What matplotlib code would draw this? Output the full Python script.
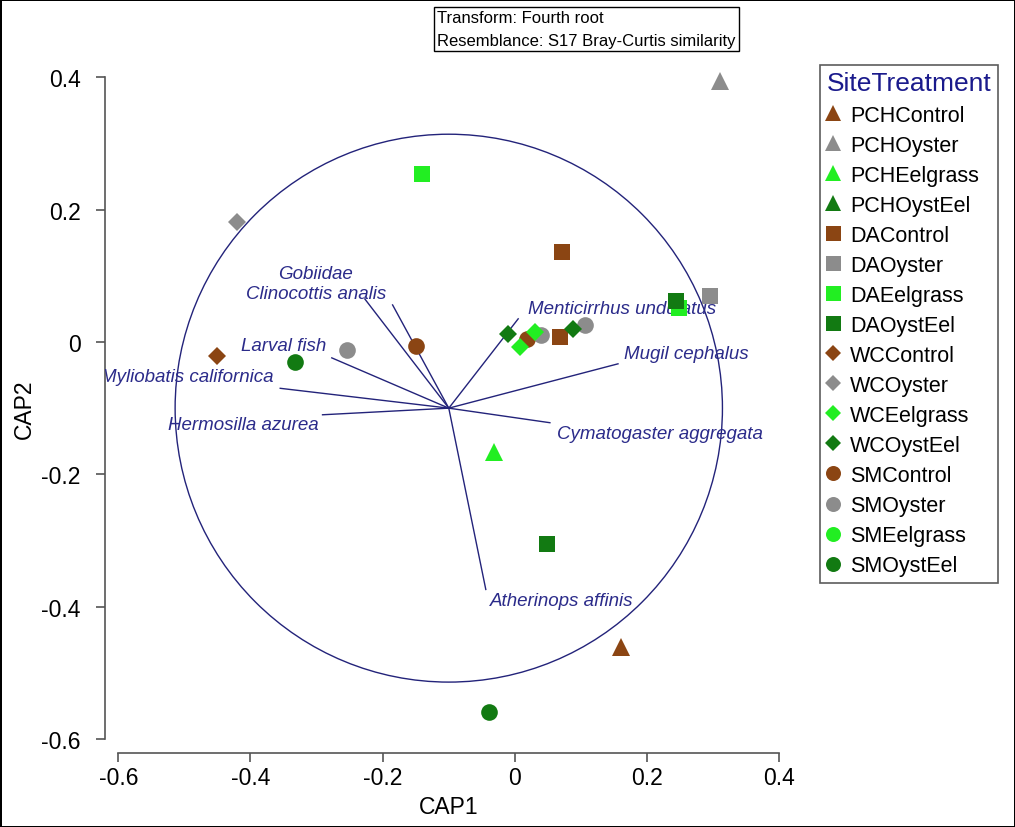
import numpy as np
import matplotlib
matplotlib.use("Agg")
import matplotlib.pyplot as plt
from matplotlib.lines import Line2D
from matplotlib.patches import Circle

plt.rcParams['font.family'] = ['Liberation Sans', 'DejaVu Sans']

# groups in legend order
groups = ['PCHControl', 'PCHOyster', 'PCHEelgrass', 'PCHOystEel',
          'DAControl', 'DAOyster', 'DAEelgrass', 'DAOystEel',
          'WCControl', 'WCOyster', 'WCEelgrass', 'WCOystEel',
          'SMControl', 'SMOyster', 'SMEelgrass', 'SMOystEel']

# CAP scores, per group
cap1 = {
    'PCHControl': [0.161], 'PCHOyster': [0.310], 'PCHEelgrass': [-0.031], 'PCHOystEel': [],
    'DAControl': [0.072, 0.068], 'DAOyster': [0.295], 'DAEelgrass': [-0.141, 0.249], 'DAOystEel': [0.244, 0.048],
    'WCControl': [-0.451], 'WCOyster': [-0.421], 'WCEelgrass': [0.008, 0.030], 'WCOystEel': [-0.010, 0.088],
    'SMControl': [-0.149, 0.018], 'SMOyster': [-0.254, 0.106, 0.040], 'SMEelgrass': [], 'SMOystEel': [-0.333, -0.039],
}
cap2 = {
    'PCHControl': [-0.461], 'PCHOyster': [0.395], 'PCHEelgrass': [-0.167], 'PCHOystEel': [],
    'DAControl': [0.136, 0.007], 'DAOyster': [0.070], 'DAEelgrass': [0.254, 0.051], 'DAOystEel': [0.062, -0.305],
    'WCControl': [-0.021], 'WCOyster': [0.182], 'WCEelgrass': [-0.008, 0.015], 'WCOystEel': [0.012, 0.020],
    'SMControl': [-0.006, 0.005], 'SMOyster': [-0.012, 0.025, 0.010], 'SMEelgrass': [], 'SMOystEel': [-0.030, -0.559],
}

# species vectors (end points) and label anchors
species = ['Gobiidae', 'Clinocottis analis', 'Larval fish', 'Myliobatis californica',
           'Hermosilla azurea', 'Menticirrhus undulatus', 'Mugil cephalus',
           'Cymatogaster aggregata', 'Atherinops affinis']
vec_x = [-0.185, -0.227, -0.277, -0.355, -0.291, 0.005, 0.156, 0.053, -0.044]
vec_y = [0.056, 0.065, -0.024, -0.070, -0.110, 0.035, -0.033, -0.122, -0.374]
lab_x = [-0.302, -0.301, -0.350, -0.495, -0.411, 0.162, 0.259, 0.219, 0.071]
lab_y = [0.103, 0.074, -0.006, -0.052, -0.125, 0.050, -0.017, -0.139, -0.391]
vec_origin = (-0.1, -0.1)
circle_r = 0.414

site_marker = {'PCH': '^', 'DA': 's', 'WC': 'D', 'SM': 'o'}
marker_size = {'^': 13.5, 's': 12, 'D': 9.2, 'o': 12}
trt_color = {'Control': '#8B4513', 'Oyster': '#8C8C8C', 'Eelgrass': '#22EE22', 'OystEel': '#127A12'}
navy = '#23237A'


def style(g):
    for site in ['PCH', 'DA', 'WC', 'SM']:
        if g.startswith(site):
            return site_marker[site], trt_color[g[len(site):]]


fig = plt.figure(figsize=(10.15, 8.28), dpi=100)
fig.patch.set_edgecolor('black')
fig.patch.set_linewidth(2)
ax = fig.add_axes([0.1035, 0.0895, 0.6773, 0.8319])

# circle and vectors
ax.add_patch(Circle(vec_origin, circle_r, fill=False, edgecolor=navy, lw=1.0, zorder=1))
for name, vx, vy, lx, ly in zip(species, vec_x, vec_y, lab_x, lab_y):
    ax.plot([vec_origin[0], vx], [vec_origin[1], vy], color=navy, lw=1.0, zorder=2)
    ax.text(lx, ly, name, color='#2B2B8A', fontsize=13.5, style='italic',
            ha='center', va='center', zorder=3, clip_on=True)

# points: SM drawn first, then the rest
draw_order = groups[12:] + groups[:12]
for g in draw_order:
    m, c = style(g)
    ax.plot(cap1[g], cap2[g], linestyle='none', marker=m, markersize=marker_size[m],
            color=c, markeredgewidth=0, zorder=4)

ax.set_xlim(-0.62, 0.42)
ax.set_ylim(-0.621, 0.42)
ax.set_xticks([-0.6, -0.4, -0.2, 0, 0.2, 0.4])
ax.set_xticklabels(['-0.6', '-0.4', '-0.2', '0', '0.2', '0.4'])
ax.set_yticks([-0.6, -0.4, -0.2, 0, 0.2, 0.4])
ax.set_yticklabels(['-0.6', '-0.4', '-0.2', '0', '0.2', '0.4'])
for s in ['top', 'right']:
    ax.spines[s].set_visible(False)
for s in ['left', 'bottom']:
    ax.spines[s].set_bounds(-0.6, 0.4)
    ax.spines[s].set_color('#555555')
    ax.spines[s].set_linewidth(1.2)
ax.tick_params(direction='out', length=6.5, width=1.2, color='#555555', labelsize=16.5)
ax.tick_params(axis='y', pad=11)
ax.tick_params(axis='x', pad=3)
ax.set_xlabel('CAP1', fontsize=16.5, labelpad=4)
ax.set_ylabel('CAP2', fontsize=16.5, labelpad=4)

# legend
handles = []
for g in groups:
    m, c = style(g)
    handles.append(Line2D([], [], linestyle='none', marker=m, markersize=marker_size[m] * 0.9,
                          color=c, markeredgewidth=0, label=g))
leg = ax.legend(handles=handles, title='SiteTreatment', loc='upper left',
                bbox_to_anchor=(820 / 1015, 1 - 66 / 828), bbox_transform=fig.transFigure,
                fontsize=15.5, title_fontsize=19, frameon=True, fancybox=False,
                handlelength=0.6, handletextpad=0.5, labelspacing=0.42,
                borderpad=0.3, borderaxespad=0, alignment='left')
leg.get_title().set_color('#1a1a8c')
leg.get_frame().set_edgecolor('#333333')
leg.get_frame().set_linewidth(1.2)

# transform / resemblance box
fig.text(437 / 1015, 1 - 11 / 828, 'Transform: Fourth root\nResemblance: S17 Bray-Curtis similarity',
         fontsize=12, ha='left', va='top', linespacing=1.65,
         bbox=dict(boxstyle='square,pad=0.2', facecolor='white', edgecolor='black', lw=1.0))

fig.savefig('out.png', dpi=100)
